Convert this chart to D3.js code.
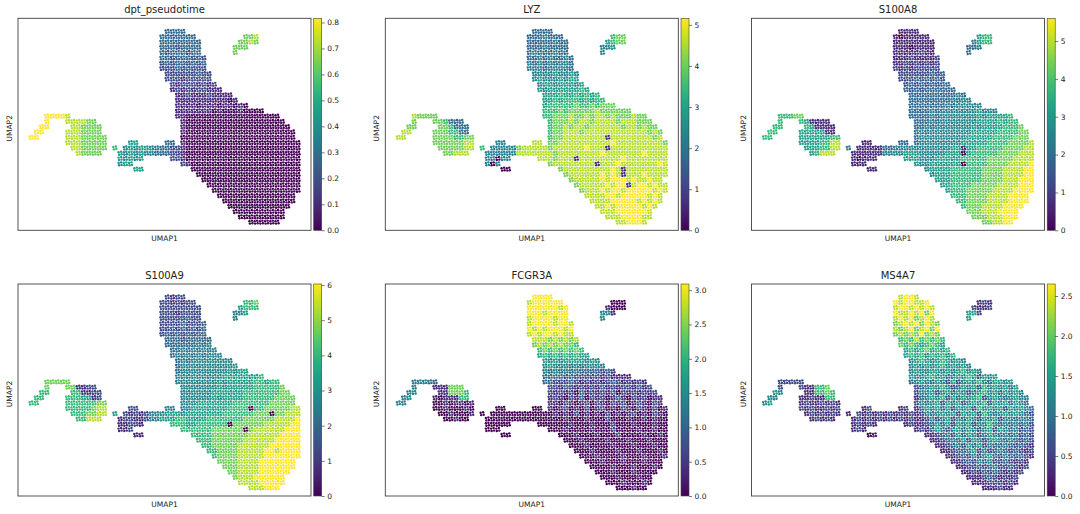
<!DOCTYPE html>
<html>
<head>
<meta charset="utf-8">
<script src="https://cdn.jsdelivr.net/npm/d3@7"></script>
<style>
  body { margin: 0; background: #fff; }
  text { font-family: "DejaVu Sans", sans-serif; fill: #222; }
</style>
</head>
<body>
<div id="chart"></div>
<script>
// UMAP embedding on a 56 x 40 grid:
// for every grid row, the runs [firstCol, lastCol] that hold cells
const umapRows = [
  [], [],
  [[28,31]],
  [[27,33],[43,45]],
  [[27,34],[42,45]],
  [[27,34],[41,43]],
  [[27,34],[41,41]],
  [[27,35]], [[27,35]], [[27,35]],
  [[28,36]], [[28,36]],
  [[29,37]], [[29,38]], [[30,40]], [[30,41]], [[30,43]], [[30,46]],
  [[5,9],[30,49]],
  [[5,5],[9,14],[31,50]],
  [[4,5],[10,15],[31,51]],
  [[3,4],[9,15],[31,52]],
  [[2,3],[9,16],[31,52]],
  [[9,16],[21,22],[28,29],[31,53]],
  [[10,16],[18,18],[20,53]],
  [[11,15],[19,53]],
  [[19,23],[29,53]],
  [[19,21],[31,53]],
  [[22,23],[33,53]],
  [[34,53]], [[35,53]], [[36,53]], [[37,53]],
  [[38,52]], [[39,52]], [[40,51]], [[41,50]], [[42,50]], [[44,49]]
];

const panelTitles = ["dpt_pseudotime", "LYZ", "S100A8", "S100A9", "FCGR3A", "MS4A7"];
const colorMax = [0.816, 5.16, 5.6, 6.03, 3.09, 2.65];
const colorTicks = [
  [0, 0.1, 0.2, 0.3, 0.4, 0.5, 0.6, 0.7, 0.8],
  [0, 1, 2, 3, 4, 5],
  [0, 1, 2, 3, 4, 5],
  [0, 1, 2, 3, 4, 5, 6],
  [0, 0.5, 1.0, 1.5, 2.0, 2.5, 3.0],
  [0, 0.5, 1.0, 1.5, 2.0, 2.5]
];
const tickFormats = [".1f", "d", "d", "d", ".1f", ".1f"];

// colour level of each cell, 0-9 of the colour bar range, in the cell order of umapRows
const pseudotimeLevels = [
  "", "",
  "3333",
  "3333333|778",
  "33333333|7787",
  "33323333|777",
  "32333233|7",
  "3323 33232",
  "23233 2323",
  "22232 3222",
  "22222 2322",
  "22212 2222",
  "21222 1212",
  "12121 22111",
  "11211 12111 1",
  "11111 11111 01",
  "11110 11101 1010",
  "11111 11010 00100 00",
  "99998|11000 00000 00000 00000",
  "9|888877|10000 00000 00000 00000",
  "99|887777|10000 00000 00000 00000 0",
  "99|8887777|10000 00000 00000 00000 00",
  "99|88877777|00000 00000 00000 00000 00",
  "88877777|55|33|10000 00000 00000 00000 000",
  "8877777|6|45455 443322 10000 00000 00000 00000 000",
  "87777|545454 4333221 00000 00000 00000 00000 00",
  "54545|221 00000 00000 00000 00000 00",
  "455|21 00000 00000 00000 00000 0",
  "55|00000 00000 00000 00000 0",
  "00000 00000 00000 00000",
  "00000 00000 00000 0000",
  "00000 00000 00000 000",
  "00000 00000 00000 00",
  "00000 00000 00000",
  "00000 00000 0000",
  "00000 00000 00",
  "00000 00000",
  "00000 0000",
  "00000 0"
];

const lyzLevels = [
  "", "",
  "3333",
  "3334333|677",
  "33333433|5677",
  "33343333|445",
  "34333433|4",
  "33434 3343",
  "43434 3443",
  "44434 4443",
  "44445 4454",
  "45444 5455",
  "45545 5545",
  "54555 55565",
  "55565 56565 6",
  "55656 66565 66",
  "56666 67667 6777",
  "66676 77777 87777 77",
  "87777|66777 87787 88787 77877",
  "7|776333|67778 78878 88878 88777",
  "77|776333|67787 88788 88887 88787 7",
  "88|7776633|67788 87888 88888 88887 87",
  "88|77776677|67788 88888 81888 88888 78",
  "77777788|44|88|77888 88888 88988 88888 887",
  "7777788|6|44444 788888 78888 88988 81888 88888 888",
  "77888|444444 8888888 78888 88889 88888 88988 88",
  "44044|888 78881 88888 88898 88888 88",
  "404|78888 88881 88898 88888 898",
  "00|78888 88888 98188 88888 8",
  "78888 88989 81888 98888",
  "78888 89899 98988 988",
  "78888 89899 18998 988",
  "78889 89989 99998 98",
  "88889 98999 99898",
  "88889 99998 9898",
  "88989 99998 98",
  "88899 99998",
  "88899 9988",
  "88999 8"
];

const s100a8Levels = [
  "", "",
  "1111",
  "1011111|566",
  "11111111|4566",
  "11101111|334",
  "11111211|3",
  "11121 1112",
  "11212 1212",
  "21212 2222",
  "22222 2323",
  "22232 3232",
  "23232 3233",
  "32323 33333",
  "33333 33334 3",
  "33333 33343 44",
  "33333 33434 4444",
  "33334 34444 44454 44",
  "66677|33334 34444 44454 55556",
  "6|651111|33343 44444 44555 56566",
  "66|651111|33434 44444 45455 55666 7",
  "66|5555511|34344 44444 45555 56666 77",
  "66|55555566|34444 44444 55555 66667 77",
  "55556688|11|33|34444 44445 55556 66677 778",
  "5556688|4|11111 334444 44444 44551 55666 66777 788",
  "56888|111111 4444555 44444 55505 66666 77778 88",
  "10111|555 44455 55566 66677 77788 88",
  "111|54455 55550 66667 77788 889",
  "11|45555 66666 67777 88889 9",
  "45556 66666 77778 88899",
  "55566 66667 77788 8999",
  "55666 67777 78888 999",
  "56667 77778 88899 99",
  "66677 77888 89999",
  "66777 78888 9999",
  "67778 88899 99",
  "77788 89999",
  "77788 8999",
  "77889 9"
];

const s100a9Levels = [
  "", "",
  "2122",
  "2212122|667",
  "22222222|5666",
  "22212222|445",
  "22222322|4",
  "22223 2223",
  "22323 2323",
  "23232 3233",
  "33323 3333",
  "33333 3434",
  "33434 3434",
  "34343 43444",
  "34344 44444 4",
  "34444 44444 45",
  "34444 44444 5455",
  "44444 44445 55555 56",
  "77777|44444 44454 55555 66566",
  "7|771122|44444 44545 55556 66667",
  "66|661122|44444 45555 55666 66667 7",
  "66|6665512|44444 45455 55666 66677 77",
  "66|66666677|44455 55555 66666 66777 77",
  "66666788|22|44|44555 55556 66606 67777 788",
  "6667788|5|21212 444555 45555 55566 66667 77077 888",
  "66888|122112 4455566 55556 66666 67777 77888 89",
  "11221|666 55666 66607 77777 88888 99",
  "112|66666 67777 77078 88888 999",
  "11|66667 77777 78888 88999 9",
  "66677 77778 88888 99999",
  "66777 77888 88899 9999",
  "66777 78888 89989 999",
  "67777 88888 99999 99",
  "77778 88899 99999",
  "77788 88999 9999",
  "77888 89999 99",
  "78889 99999",
  "88889 9999",
  "88899 9"
];

const fcgr3aLevels = [
  "", "",
  "9999",
  "8999999|000",
  "99999989|1000",
  "99989999|441",
  "89999899|4",
  "89999 8998",
  "98989 9989",
  "89899 8988",
  "88878 7878",
  "78787 8776",
  "67676 7676",
  "56565 65655",
  "54545 55545 4",
  "45444 34344 44",
  "43434 34333 3232",
  "33332 32222 21211 11",
  "44433|33222 32121 21232 12121",
  "4|111777|22132 12121 31212 21312",
  "44|117776|21212 03121 21302 12121 2",
  "44|1011166|12102 13021 20131 02120 11",
  "44|00101101|11021 01202 10212 01210 21",
  "00100010|00|00|10120 10201 20102 10210 201",
  "0010001|0|00000 000000 01010 20101 02010 12010 210",
  "00100|000000 0000000 00100 01000 20001 00101 00",
  "00000|000 00010 00100 02000 10001 00",
  "000|00010 00010 00200 00100 100",
  "00|00010 00100 02000 01001 0",
  "00010 00010 00100 01000",
  "00010 00010 00100 0100",
  "00010 00010 00100 010",
  "00010 00010 00100 01",
  "00010 00100 01000",
  "00001 00010 0010",
  "00010 00100 00",
  "00010 00100",
  "00010 0010",
  "00010 0"
];

const ms4a7Levels = [
  "", "",
  "8998",
  "9899889|121",
  "89989898|2112",
  "98898979|552",
  "89897898|5",
  "78989 7987",
  "87897 8979",
  "78787 9787",
  "67686 7676",
  "76765 6765",
  "56567 5656",
  "56564 65646",
  "45654 56545 4",
  "45454 56454 54",
  "45445 54545 6454",
  "54456 45345 46525 45",
  "22222|34543 54252 45464 35545",
  "2|211667|23454 64235 45264 54535",
  "54|116676|24452 45354 24564 53545 4",
  "44|1121166|13454 62535 45624 54345 44",
  "45|12112121|24345 25352 45462 54535 43",
  "21211212|12|12|13545 35254 52645 45254 543",
  "1212121|1|21212 121212 12434 54525 45264 34545 432",
  "12121|121212 1212121 12424 52435 42545 24434 43",
  "12121|121 12353 52545 24464 34343 42",
  "121|12135 42453 54245 25434 232",
  "01|11234 25354 24543 43423 2",
  "11234 35254 24543 43232",
  "11234 25352 43343 2321",
  "11233 45242 34323 212",
  "11232 42453 24323 21",
  "11232 43422 32121",
  "11223 23422 3212",
  "11213 23212 12",
  "11123 21212",
  "11122 2121",
  "11121 1"
];

const panelLevels = [pseudotimeLevels, lyzLevels, s100a8Levels, s100a9Levels, fcgr3aLevels, ms4a7Levels];

const width = 1080;
const height = 514;
const plotW = 293, plotH = 212;
const colLeft = [18, 385.3, 751.5];
const rowTop = [18.3, 284];
const gridCols = 56, gridRows = 40;
// where the dots of one grid cell sit inside it
const cellDots = [[0.22, 0.28], [0.7, 0.18], [0.32, 0.74], [0.8, 0.66]];

const svg = d3.select("#chart")
    .append("svg")
    .attr("width", width)
    .attr("height", height);

const grad = svg.append("defs").append("linearGradient")
    .attr("id", "viridis")
    .attr("x1", 0).attr("y1", 1).attr("x2", 0).attr("y2", 0);
d3.range(0, 1.0001, 0.05).forEach(function(t) {
    grad.append("stop").attr("offset", t).attr("stop-color", d3.interpolateViridis(t));
});

// turn the level strings into points for every occupied grid cell
function cellsFor(levels) {
    const pts = [];
    umapRows.forEach(function(runs, r) {
        const chars = (levels[r] || "").replace(/[^0-9]/g, "");
        let i = 0;
        runs.forEach(function(run) {
            for (let c = run[0]; c <= run[1]; c++, i++) {
                if (i >= chars.length) continue;
                cellDots.forEach(function(o) {
                    pts.push({umap1: c + o[0], umap2: r + o[1], level: +chars[i]});
                });
            }
        });
    });
    return pts;
}

panelTitles.forEach(function(title, k) {
    const left = colLeft[k % 3];
    const top = rowTop[Math.floor(k / 3)];
    const vmax = colorMax[k];

    const xScale = d3.scaleLinear().domain([0, gridCols]).range([left, left + plotW]);
    const yScale = d3.scaleLinear().domain([0, gridRows]).range([top, top + plotH]);
    const color = d3.scaleSequential(d3.interpolateViridis).domain([0, vmax]);

    const g = svg.append("g");

    g.selectAll("circle")
        .data(cellsFor(panelLevels[k]))
        .enter()
        .append("circle")
        .attr("cx", function(d) { return xScale(d.umap1); })
        .attr("cy", function(d) { return yScale(d.umap2); })
        .attr("r", 1.2)
        .attr("fill", function(d) { return color(d.level / 9 * vmax); });

    g.append("rect")
        .attr("x", left).attr("y", top)
        .attr("width", plotW).attr("height", plotH)
        .attr("fill", "none")
        .attr("stroke", "#404040")
        .attr("stroke-width", 0.9);

    g.append("text")
        .attr("x", left + plotW / 2)
        .attr("y", top - 5)
        .attr("text-anchor", "middle")
        .attr("font-size", 10)
        .text(title);

    g.append("text")
        .attr("x", left + plotW / 2)
        .attr("y", top + plotH + 11)
        .attr("text-anchor", "middle")
        .attr("font-size", 7.5)
        .text("UMAP1");

    g.append("text")
        .attr("transform", `translate(${left - 6},${top + plotH / 2 + 4}) rotate(-90)`)
        .attr("text-anchor", "middle")
        .attr("font-size", 7.5)
        .text("UMAP2");

    // colour bar
    const barX = left + plotW + 2.7;
    g.append("rect")
        .attr("x", barX).attr("y", top)
        .attr("width", 8).attr("height", plotH)
        .attr("fill", "url(#viridis)")
        .attr("stroke", "#404040")
        .attr("stroke-width", 0.6);

    const barScale = d3.scaleLinear().domain([0, vmax]).range([top + plotH, top]);
    const barAxis = g.append("g")
        .attr("transform", `translate(${barX + 8},0)`)
        .call(d3.axisRight(barScale)
            .tickValues(colorTicks[k])
            .tickSize(3)
            .tickPadding(2.5)
            .tickFormat(d3.format(tickFormats[k])));
    barAxis.select(".domain").remove();
    barAxis.selectAll("line").attr("stroke", "#404040").attr("stroke-width", 0.7);
    barAxis.selectAll("text")
        .attr("font-size", 7.5)
        .attr("font-family", "DejaVu Sans, sans-serif")
        .attr("fill", "#222");
});
</script>
</body>
</html>
